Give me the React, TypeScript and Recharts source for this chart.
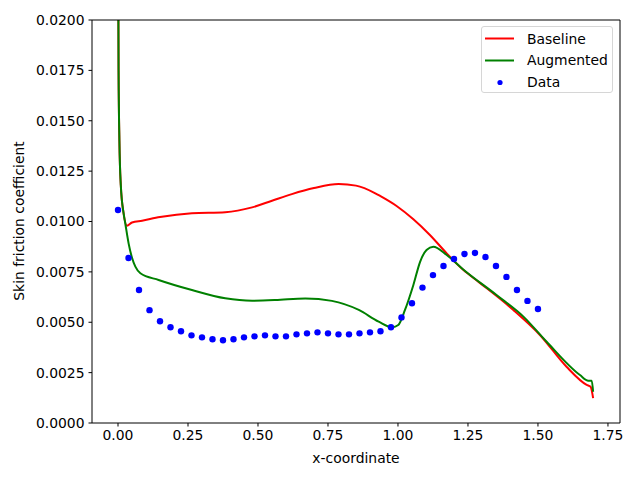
import { ComposedChart, Line, Scatter, XAxis, YAxis } from "recharts";

// Baseline model curve (red)
const baselineX = [0, 0.002, 0.005, 0.01, 0.02, 0.032, 0.05, 0.086, 0.15, 0.264, 0.383, 0.479, 0.55, 0.621, 0.7, 0.788, 0.85, 0.919, 0.936, 0.995, 1.055, 1.114, 1.174, 1.233, 1.29, 1.412, 1.507, 1.602, 1.674, 1.688, 1.697];
const baselineY = [0.026, 0.0175, 0.014, 0.0118, 0.0104, 0.00979, 0.00995, 0.01004, 0.01022, 0.01041, 0.01046, 0.0107, 0.01103, 0.01136, 0.01166, 0.01186, 0.01178, 0.0114, 0.01127, 0.01077, 0.01011, 0.00933, 0.00842, 0.0076, 0.00698, 0.00561, 0.00437, 0.00279, 0.00189, 0.0018, 0.00123];

// Augmented model curve (green)
const augmentedX = [0, 0.002, 0.005, 0.01, 0.02, 0.026, 0.038, 0.05, 0.062, 0.08, 0.145, 0.264, 0.383, 0.479, 0.562, 0.669, 0.764, 0.86, 0.931, 0.98, 1.001, 1.025, 1.055, 1.079, 1.102, 1.126, 1.174, 1.233, 1.352, 1.448, 1.531, 1.65, 1.68, 1.692, 1.697];
const augmentedY = [0.026, 0.0175, 0.014, 0.0118, 0.0104, 0.0099, 0.0089, 0.0082, 0.00776, 0.00743, 0.0071, 0.0066, 0.00619, 0.00607, 0.0061, 0.00618, 0.00606, 0.00561, 0.00503, 0.00475, 0.00486, 0.00561, 0.00685, 0.008, 0.00859, 0.00875, 0.00834, 0.00762, 0.00635, 0.00528, 0.00403, 0.00238, 0.0021, 0.0021, 0.00155];

// Measured data (blue dots)
const dataX = [0, 0.0375, 0.075, 0.1125, 0.15, 0.1875, 0.225, 0.2625, 0.3, 0.3375, 0.375, 0.4125, 0.45, 0.4875, 0.525, 0.5625, 0.6, 0.6375, 0.675, 0.7125, 0.75, 0.7875, 0.825, 0.8625, 0.9, 0.9375, 0.975, 1.0125, 1.05, 1.0875, 1.125, 1.1625, 1.2, 1.2375, 1.275, 1.3125, 1.35, 1.3875, 1.425, 1.4625, 1.5];
const dataY = [0.01057, 0.00819, 0.0066, 0.0056, 0.00505, 0.00475, 0.00455, 0.00435, 0.00425, 0.00416, 0.00411, 0.00416, 0.00425, 0.0043, 0.00435, 0.0043, 0.0043, 0.0044, 0.00445, 0.0045, 0.00445, 0.0044, 0.0044, 0.00445, 0.0045, 0.00455, 0.00475, 0.00524, 0.00594, 0.00672, 0.00734, 0.00779, 0.00814, 0.00839, 0.00844, 0.00824, 0.00779, 0.00725, 0.0066, 0.00606, 0.00566];

const xTicks = [0, 0.25, 0.5, 0.75, 1.0, 1.25, 1.5, 1.75];
const yTicks = [0, 0.0025, 0.005, 0.0075, 0.01, 0.0125, 0.015, 0.0175, 0.02];

const FONT = "DejaVu Sans";
const X_DOMAIN: [number, number] = [-0.0929, 1.793];

const toPoints = (xs: number[], ys: number[]) => xs.map((x, i) => ({ x, y: ys[i] }));

const baseline = toPoints(baselineX, baselineY);
const augmented = toPoints(augmentedX, augmentedY);
const measured = toPoints(dataX, dataY);

const tickStyle = { fontSize: 13.9, fill: "#000", fontFamily: FONT };

function LegendBox() {
  const row = { display: "flex", alignItems: "center", height: 21.5 };
  return (
    <div
      style={{
        position: "absolute",
        left: 481,
        top: 26,
        width: 132,
        height: 67,
        border: "1px solid #d6d6d6",
        borderRadius: 3,
        background: "rgba(255,255,255,0.8)",
        fontFamily: FONT,
        fontSize: 13.9,
        boxSizing: "border-box",
        paddingTop: 1,
      }}
    >
      <div style={row}>
        <svg width={45} height={21}>
          <line x1={3} x2={32} y1={10.5} y2={10.5} stroke="#ff0000" strokeWidth={2} />
        </svg>
        <span>Baseline</span>
      </div>
      <div style={row}>
        <svg width={45} height={21}>
          <line x1={3} x2={32} y1={10.5} y2={10.5} stroke="#008000" strokeWidth={2} />
        </svg>
        <span>Augmented</span>
      </div>
      <div style={row}>
        <svg width={45} height={21}>
          <circle cx={18} cy={11.5} r={2.6} fill="#0000ff" />
        </svg>
        <span>Data</span>
      </div>
    </div>
  );
}

export default function App() {
  return (
    <div style={{ position: "absolute", left: 0, top: 0, width: 640, height: 480, background: "#fff" }}>
      <ComposedChart width={640} height={480} margin={{ top: 19, right: 19, left: 0, bottom: 0 }}>
        <XAxis
          xAxisId={0}
          type="number"
          dataKey="x"
          domain={X_DOMAIN}
          allowDataOverflow
          ticks={xTicks}
          tickFormatter={(v: number) => v.toFixed(2)}
          height={57}
          tick={tickStyle}
          tickSize={3.5}
          tickMargin={4}
          axisLine={{ stroke: "#000" }}
          tickLine={{ stroke: "#000" }}
          label={() => (
            <text x={356} y={463} textAnchor="middle" fontFamily={FONT} fontSize={13.9} fill="#000">
              x-coordinate
            </text>
          )}
        />
        <XAxis
          xAxisId="top"
          orientation="top"
          type="number"
          domain={X_DOMAIN}
          allowDataOverflow
          height={1}
          tick={false}
          tickLine={false}
          axisLine={{ stroke: "#000" }}
        />
        <YAxis
          yAxisId={0}
          type="number"
          domain={[0, 0.02]}
          allowDataOverflow
          ticks={yTicks}
          tickFormatter={(v: number) => v.toFixed(4)}
          width={92}
          tick={tickStyle}
          tickSize={3.5}
          tickMargin={4}
          axisLine={{ stroke: "#000" }}
          tickLine={{ stroke: "#000" }}
          label={() => (
            <text
              x={24}
              y={221}
              transform="rotate(-90 24 221)"
              textAnchor="middle"
              fontFamily={FONT}
              fontSize={13.9}
              fill="#000"
            >
              Skin friction coefficient
            </text>
          )}
        />
        <YAxis
          yAxisId="right"
          orientation="right"
          type="number"
          domain={[0, 0.02]}
          allowDataOverflow
          width={1}
          tick={false}
          tickLine={false}
          axisLine={{ stroke: "#000" }}
        />
        <Line
          data={baseline}
          dataKey="y"
          type="monotone"
          stroke="#ff0000"
          strokeWidth={2}
          dot={false}
          isAnimationActive={false}
        />
        <Line
          data={augmented}
          dataKey="y"
          type="monotone"
          stroke="#008000"
          strokeWidth={2}
          dot={false}
          isAnimationActive={false}
        />
        <Scatter
          data={measured}
          dataKey="y"
          fill="#0000ff"
          isAnimationActive={false}
          shape={(p: any) => <circle cx={p.cx} cy={p.cy} r={3.2} fill="#0000ff" />}
        />
      </ComposedChart>
      <LegendBox />
    </div>
  );
}
